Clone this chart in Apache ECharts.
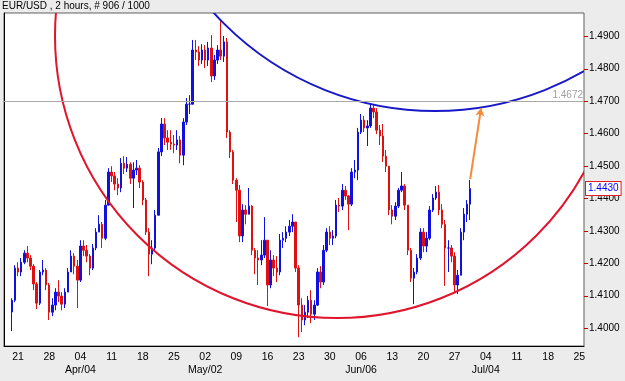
<!DOCTYPE html>
<html>
<head>
<meta charset="utf-8">
<script src="https://cdn.jsdelivr.net/npm/echarts@6/dist/echarts.min.js"></script>
<style>
html,body{margin:0;padding:0;background:#ececec;}
#chart{width:625px;height:381px;}
</style>
</head>
<body>
<div id="chart"></div>
<script>
// ---- axis slots: half-day (12h) bars, slot 0 = Thu Mar 17 AM, Mondays every 10 slots from slot 4
const slotCount = 186;
const firstMondaySlot = 4;
const slotsPerWeek = 10;
const firstBarSlot = 2;

// ---- tick labels
const weekTicks = ['21','28','04','11','18','25','02','09','16','23','30','06','13','20','27','04','11','18','25'];
const monthTicks = ['','','Apr/04','','','','May/02','','','','','Jun/06','','','','Jul/04','','',''];
const priceTicks = [1.40,1.41,1.42,1.43,1.44,1.45,1.46,1.47,1.48,1.49];

// ---- EUR/USD half-day bars
const firstOpen = 1.4050;
const highs = [
1.4092,1.4194,1.4203,1.4216,1.4240,1.4253,1.4225,1.4197,1.4142,1.4179,1.4210,1.4185,
1.4139,1.4092,1.4123,1.4148,1.4111,1.4123,1.4185,1.4240,1.4231,1.4210,
1.4271,1.4271,1.4256,1.4228,1.4259,1.4308,1.4348,1.4327,1.4395,1.4493,
1.4499,1.4481,1.4462,1.4524,1.4530,1.4527,1.4511,1.4511,1.4518,1.4502,
1.4456,1.4401,1.4308,1.4271,1.4364,1.4555,1.4647,1.4647,1.4610,1.4610,
1.4595,1.4610,1.4592,1.4647,1.4709,1.4718,1.4888,1.4888,1.4869,1.4875,
1.4872,1.4882,1.4903,1.4842,1.4872,1.4946,1.4900,1.4894,1.4610,1.4549,
1.4462,1.4441,1.4382,1.4379,1.4432,1.4379,1.4247,1.4240,1.4271,1.4342,
1.4271,1.4240,1.4225,1.4222,1.4290,1.4296,1.4314,1.4333,1.4351,1.4327,
1.4194,1.4092,1.4071,1.4099,1.4117,1.4086,1.4185,1.4191,1.4256,1.4308,
1.4314,1.4302,1.4395,1.4401,1.4444,1.4438,1.4410,1.4493,1.4518,1.4617,
1.4660,1.4654,1.4641,1.4690,1.4690,1.4678,1.4626,1.4629,1.4549,1.4493,
1.4379,1.4388,1.4432,1.4481,1.4444,1.4379,1.4247,1.4185,1.4228,1.4308,
1.4308,1.4296,1.4376,1.4413,1.4438,1.4441,1.4382,1.4333,1.4271,1.4256,
1.4234,1.4179,1.4308,1.4370,1.4395,1.4456];
const lows = [
1.3991,1.4080,1.4160,1.4160,1.4197,1.4203,1.4179,1.4117,1.4059,1.4071,1.4163,1.4117,
1.4025,1.4037,1.4055,1.4080,1.4055,1.4062,1.4111,1.4191,1.4166,1.4062,
1.4142,1.4222,1.4203,1.4163,1.4179,1.4240,1.4296,1.4247,1.4271,1.4379,
1.4450,1.4425,1.4410,1.4419,1.4475,1.4481,1.4444,1.4370,1.4472,1.4432,
1.4379,1.4287,1.4160,1.4197,1.4240,1.4348,1.4530,1.4564,1.4549,1.4549,
1.4539,1.4549,1.4508,1.4502,1.4626,1.4660,1.4690,1.4826,1.4808,1.4814,
1.4801,1.4808,1.4758,1.4765,1.4814,1.4826,1.4820,1.4586,1.4524,1.4444,
1.4327,1.4265,1.4265,1.4320,1.4351,1.4225,1.4166,1.4133,1.4194,1.4216,
1.4068,1.4123,1.4160,1.4142,1.4163,1.4247,1.4265,1.4284,1.4296,1.4173,
1.3972,1.3988,1.4009,1.4031,1.4015,1.4025,1.4068,1.4123,1.4133,1.4234,
1.4256,1.4256,1.4277,1.4358,1.4364,1.4395,1.4302,1.4376,1.4462,1.4456,
1.4598,1.4604,1.4561,1.4617,1.4647,1.4598,1.4564,1.4512,1.4481,1.4348,
1.4320,1.4333,1.4370,1.4419,1.4364,1.4225,1.4142,1.4074,1.4166,1.4210,
1.4234,1.4234,1.4271,1.4358,1.4395,1.4348,1.4308,1.4130,1.4173,1.4203,
1.4111,1.4105,1.4203,1.4271,1.4327,1.4333];
const closes = [
1.4086,1.4185,1.4173,1.4203,1.4231,1.4216,1.4191,1.4136,1.4077,1.4173,1.4179,1.4133,
1.4049,1.4071,1.4111,1.4099,1.4074,1.4111,1.4173,1.4222,1.4191,1.4148,
1.4253,1.4240,1.4222,1.4185,1.4247,1.4296,1.4320,1.4277,1.4379,1.4481,
1.4469,1.4444,1.4432,1.4508,1.4493,1.4505,1.4462,1.4487,1.4493,1.4450,
1.4395,1.4296,1.4228,1.4247,1.4348,1.4543,1.4629,1.4586,1.4573,1.4567,
1.4564,1.4580,1.4533,1.4635,1.4690,1.4690,1.4857,1.4851,1.4826,1.4857,
1.4826,1.4863,1.4777,1.4826,1.4857,1.4838,1.4882,1.4604,1.4543,1.4456,
1.4425,1.4284,1.4364,1.4351,1.4376,1.4240,1.4216,1.4210,1.4225,1.4271,
1.4133,1.4210,1.4185,1.4173,1.4271,1.4277,1.4296,1.4314,1.4327,1.4185,
1.4071,1.4025,1.4049,1.4086,1.4043,1.4071,1.4173,1.4142,1.4240,1.4296,
1.4277,1.4284,1.4379,1.4376,1.4425,1.4407,1.4382,1.4481,1.4487,1.4604,
1.4641,1.4617,1.4623,1.4678,1.4666,1.4610,1.4592,1.4530,1.4499,1.4364,
1.4345,1.4376,1.4425,1.4438,1.4379,1.4240,1.4154,1.4173,1.4216,1.4296,
1.4253,1.4277,1.4364,1.4401,1.4419,1.4364,1.4320,1.4247,1.4247,1.4222,
1.4133,1.4163,1.4296,1.4351,1.4382,1.4430];

// ---- chart annotations (price levels / drawn objects)
const hLineLevel = 1.4672;
const lastPrice = 1.4430;
const redEllipse = [106.8, 1.4900, 0.0869];   // centre slot, centre price, radius (price)
const blueEllipse = [138.2, 1.5588, 0.0919];
const arrowFrom = [149.5, 1.4459];
const arrowTo = [153.0, 1.4678];

// ---- build
const categories = [];
for (let i = 0; i < slotCount; i++) categories.push(String(i));
const candles = [];
let prev = firstOpen;
for (let i = 0; i < closes.length; i++) {
  const o = prev, c = closes[i];
  const h = Math.max(highs[i], o, c), l = Math.min(lows[i], o, c);
  candles.push([firstBarSlot + i, o, c, l, h]);
  prev = c;
}

const font = 'Liberation Sans, Arial, sans-serif';
const chart = echarts.init(document.getElementById('chart'), null, {renderer: 'canvas'});

function circleSeries(d, color) {
  return {
    type: 'custom', xAxisIndex: 1, yAxisIndex: 0, clip: true, silent: true, z: 3,
    data: [d],
    encode: {x: 0, y: 1},
    renderItem: function (params, api) {
      const c = api.coord([api.value(0), api.value(1)]);
      const r = api.size([0, api.value(2)])[1];
      return {type: 'circle', shape: {cx: c[0], cy: c[1], r: r},
        style: {fill: 'transparent', stroke: color, lineWidth: 2}};
    }
  };
}

chart.setOption({
  animation: false,
  backgroundColor: '#ececec',
  title: {text: 'EUR/USD , 2 hours, # 906 / 1000', left: 2, top: 1, padding: 0,
    textStyle: {fontFamily: font, fontSize: 10, fontWeight: 'normal', color: '#000'}},
  grid: {left: 4, top: 13, right: 41, bottom: 35, show: true, backgroundColor: '#ffffff',
    borderColor: '#606060', borderWidth: 1},
  xAxis: [{
    type: 'category', data: categories, boundaryGap: true,
    axisLine: {lineStyle: {color: '#000', width: 1}},
    axisTick: {show: false},
    splitLine: {show: false},
    axisLabel: {
      fontFamily: font, fontSize: 10.5, color: '#000', margin: 5, lineHeight: 13,
      interval: function (idx) { return idx >= firstMondaySlot && (idx - firstMondaySlot) % slotsPerWeek === 0; },
      formatter: function (v, idx) {
        const k = (Number(v) - firstMondaySlot) / slotsPerWeek;
        if (k < 0 || k !== Math.floor(k) || k >= weekTicks.length) return '';
        return monthTicks[k] ? weekTicks[k] + '\n' + monthTicks[k] : weekTicks[k];
      }
    }
  }, {
    type: 'value', min: 0, max: slotCount, show: false
  }],
  yAxis: {
    type: 'value', position: 'right', min: 1.3945, max: 1.4971, scale: true,
    axisLine: {show: true, lineStyle: {color: '#000', width: 1}},
    axisTick: {show: false},
    splitLine: {show: false},
    axisLabel: {customValues: priceTicks, margin: 5, fontFamily: font, fontSize: 10, color: '#000',
      formatter: function (v) { return v.toFixed(4); }}
  },
  series: [
    {
      type: 'candlestick', xAxisIndex: 0, yAxisIndex: 0,
      data: candles, encode: {x: 0, y: [1, 2, 3, 4]},
      barWidth: 2,
      itemStyle: {color: '#1010e0', color0: '#e01010', borderColor: '#1010e0', borderColor0: '#e01010', borderWidth: 1},
      markLine: {
        silent: true, symbol: ['none', 'none'], animation: false,
        data: [
          {yAxis: hLineLevel, lineStyle: {color: '#a8a8a8', width: 1, type: 'solid'},
            label: {show: true, position: 'insideEndTop', distance: [1, 1], formatter: hLineLevel.toFixed(4),
              color: '#a0a0a0', fontFamily: font, fontSize: 10}}
        ]
      }
    },
    circleSeries(redEllipse, '#e0142c'),
    circleSeries(blueEllipse, '#1818c8'),
    {
      // red price-axis ticks, placed through the y scale
      type: 'custom', xAxisIndex: 1, yAxisIndex: 0, silent: true, clip: false, z: 5,
      data: priceTicks.map(function (v) { return [0, v]; }),
      encode: {x: 0, y: 1},
      renderItem: function (params, api) {
        const y = Math.round(api.coord([0, api.value(1)])[1]) + 0.5;
        const x = params.coordSys.x + params.coordSys.width;
        return {type: 'line', shape: {x1: x, y1: y, x2: x + 4, y2: y},
          style: {stroke: '#c00000', lineWidth: 1}};
      }
    },
    {
      // last price box on the price axis
      type: 'custom', xAxisIndex: 1, yAxisIndex: 0, silent: true, clip: false, z: 6,
      data: [[0, lastPrice]],
      encode: {x: 0, y: 1},
      renderItem: function (params, api) {
        const y = api.coord([0, api.value(1)])[1];
        const x = params.coordSys.x + params.coordSys.width + 2;
        return {type: 'text', x: x, y: y,
          style: {text: api.value(1).toFixed(4), fill: '#0000ff', font: '10px ' + font,
            verticalAlign: 'middle', align: 'left', backgroundColor: '#ffffff',
            borderColor: '#e02020', borderWidth: 1, padding: [2, 2, 1, 2]}};
      }
    },
    {
      type: 'custom', xAxisIndex: 1, yAxisIndex: 0, data: [], silent: true, z: 4,
      renderItem: function () { return null; },
      markLine: {
        silent: true, animation: false, symbol: ['none', 'arrow'], symbolSize: [7, 8],
        lineStyle: {color: '#f58a3c', width: 2, type: 'solid'},
        label: {show: false},
        data: [[{coord: arrowFrom}, {coord: arrowTo}]]
      }
    }
  ]
});
</script>
</body>
</html>
